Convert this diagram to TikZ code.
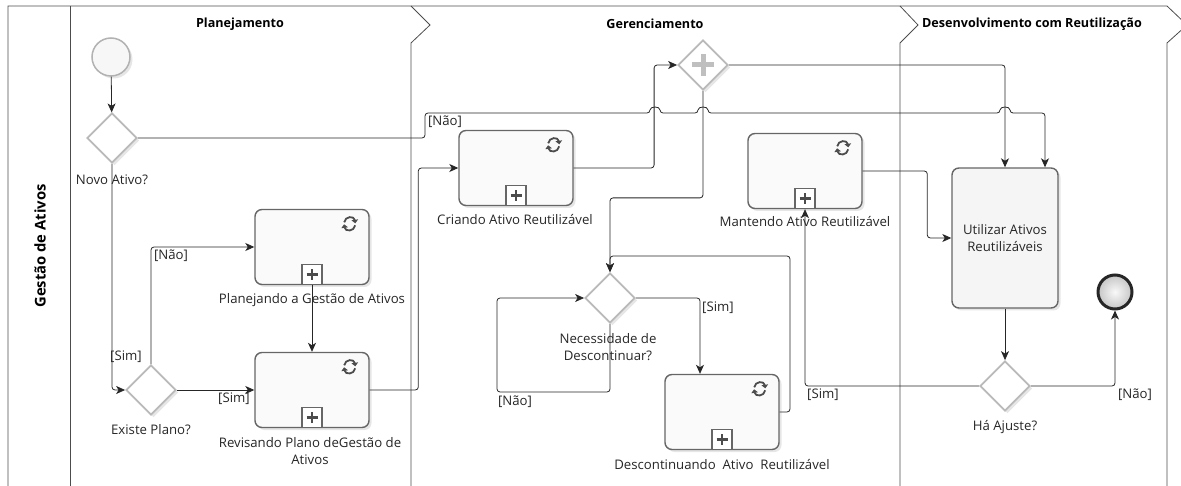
\documentclass[tikz,border=0pt]{standalone}
\usepackage{fontspec}
\setmainfont{Open Sans}
\usetikzlibrary{positioning,calc,shapes.geometric,arrows.meta,shadows}

\tikzset{
  lane/.style={draw=black!70, line width=.8pt},
  lanetitle/.style={font=\bfseries\fontsize{12.6}{15}\selectfont, inner sep=0pt},
  txt/.style={font=\fontsize{13.2}{17.5}\selectfont, text=black!85, inner sep=0pt, align=center},
  task/.style={draw=black!60, line width=1.4pt, rounded corners=7pt, fill=gray!4,
    minimum width=114pt, minimum height=75pt,
    drop shadow={shadow xshift=2.5pt, shadow yshift=-2.5pt, opacity=.2}},
  gateway/.style={diamond, aspect=1, draw=gray!55, line width=1.8pt, fill=white,
    minimum size=50pt, inner sep=0pt,
    drop shadow={shadow xshift=2.5pt, shadow yshift=-2.5pt, opacity=.2}},
  startev/.style={circle, draw=gray!60, line width=1.5pt, fill=gray!6, minimum size=38pt, inner sep=0pt,
    drop shadow={shadow xshift=2.5pt, shadow yshift=-2.5pt, opacity=.2}},
  endev/.style={circle, draw=black!85, line width=3pt, inner color=gray!5, outer color=gray!45,
    minimum size=34pt, inner sep=0pt},
  flow/.style={draw=black!85, line width=.8pt, rounded corners=3pt,
    -{Stealth[length=9pt,width=8pt,inset=2.5pt]}},
  submark/.style={draw=black!60, line width=1.4pt, fill=white, minimum size=20pt, inner sep=0pt},
  loopmark/.pic={
    \draw[line width=1.8pt, black!70, -{Triangle[length=3.5pt,width=6.5pt]}]
      (-5.5pt,1.5pt) .. controls (-4.5pt,8pt) and (4.5pt,8pt) .. (5.6pt,0.5pt);
    \draw[line width=1.8pt, black!70, -{Triangle[length=3.5pt,width=6.5pt]}]
      (5.5pt,-1.5pt) .. controls (4.5pt,-8pt) and (-4.5pt,-8pt) .. (-5.6pt,-0.5pt);
  }
}

\begin{document}
\begin{tikzpicture}[x=1pt,y=-1pt]
  \useasboundingbox (0,0) rectangle (1181,486);
  \clip (0,0) rectangle (1181,486);

  % pool and lanes
  \draw[lane] (8,486) -- (8,6) -- (1167,6) -- (1187,25) -- (1167,43) -- (1167,486);
  \draw[lane] (70,6) -- (70,486);
  \draw[lane] (411,6) -- (430,25) -- (411,43) -- (411,486);
  \draw[lane] (900,6) -- (918,25) -- (900,43) -- (900,486);

  \node[lanetitle] (tplan) at (240,24) {Planejamento};
  \node[lanetitle] (tger) at (655,24) {Gerenciamento};
  \node[lanetitle] (tdes) at (1032,24) {Desenvolvimento com Reutilização};
  \node[lanetitle, font=\bfseries\fontsize{14.8}{17}\selectfont, rotate=90] (tpool) at (40,246) {Gestão de Ativos};

  % events, gateways, tasks
  \node[startev] (start) at (111,57) {};
  \node[gateway] (gwnovo) at (112,138) {};
  \node[txt] (lbnovo) at (112,180) {Novo Ativo?};
  \node[gateway] (gwexiste) at (151,390) {};
  \node[txt] (lbexiste) at (151,430) {Existe Plano?};

  \node[task] (plan) at (312,247) {};
  \node[txt] (lbplan) at (312,300) {Planejando a Gestão de Ativos};
  \node[task] (rev) at (312,390) {};
  \node[txt] (lbrev) at (310,451) {Revisando Plano deGestão de\\Ativos};

  \node[task] (cria) at (516,168) {};
  \node[txt] (lbcria) at (515,220) {Criando Ativo Reutilizável};
  \node[gateway] (gwpar) at (703,65) {};
  \draw[line width=5pt, gray!50] ([xshift=-11pt]gwpar.center) -- ([xshift=11pt]gwpar.center)
    ([yshift=-11pt]gwpar.center) -- ([yshift=11pt]gwpar.center);
  \node[task] (mant) at (805,171) {};
  \node[txt] (lbmant) at (805,222) {Mantendo Ativo Reutilizável};
  \node[gateway] (gwnec) at (610,298) {};
  \node[txt] (lbnec) at (608,347) {Necessidade de\\Descontinuar?};
  \node[task] (desc) at (722,412) {};
  \node[txt] (lbdesc) at (722,465) {Descontinuando~ Ativo~ Reutilizável};

  \node[task, txt, minimum width=106pt, minimum height=140pt, fill=gray!8] (util) at (1005,238) {Utilizar Ativos\\Reutilizáveis};
  \node[gateway] (gwaj) at (1005,386) {};
  \node[txt] (lbaj) at (1005,427) {Há Ajuste?};
  \node[endev] (fim) at (1115,292) {};

  % task markers
  \foreach \t in {plan,rev,cria,mant,desc}{
    \node[submark, above=0pt of \t.south] (\t-sub) {};
    \draw[line width=2.6pt, black!70] ([xshift=-5.5pt]\t-sub.center) -- ([xshift=5.5pt]\t-sub.center)
      ([yshift=-5.5pt]\t-sub.center) -- ([yshift=5.5pt]\t-sub.center);
    \pic at ([xshift=-20pt,yshift=-15pt]\t.north east) {loopmark};
  }

  % sequence flows
  \draw[flow] (start) -- (gwnovo);
  \draw[flow] (gwnovo.east) -- (425,138) -- (425,113) -- (650,113)
    .. controls (650,106) and (660,106) .. (660,113) -- (698,113)
    .. controls (698,106) and (708,106) .. (708,113) -- (1000,113)
    .. controls (1000,106) and (1010,106) .. (1010,113) -| ([xshift=40pt]util.north);
  \draw[flow] (gwnovo.south) |- (gwexiste.west);
  \draw[flow] (gwexiste.north) |- (plan.west);
  \draw[flow] (gwexiste.east) -- (rev.west);
  \draw[flow] (plan.south) -- (rev.north);
  \draw[flow] (rev.east) -| ([xshift=-40pt]cria.west) -- (cria.west);
  \draw[flow] (cria.east) -| ([xshift=-23pt]gwpar.west) -- (gwpar.west);
  \draw[flow] (gwpar.east) -| (util.north);
  \draw[flow] (gwpar.south) -- ++(0,107) -| (gwnec.north);
  \draw[flow] (gwnec.east) -| ([xshift=-22pt]desc.north);
  \coordinate (loopc) at (497,392);
  \draw[flow] (gwnec.south) |- (loopc) |- (gwnec.west);
  \coordinate (backc) at (790,256);
  \draw[flow] (desc.east) -| (backc) -| (gwnec.north);
  \draw[flow] (mant.east) -| ([xshift=-24pt]util.west) -- (util.west);
  \draw[flow] (util.south) -- (gwaj.north);
  \draw[flow] (gwaj.west) -| (mant.south);
  \draw[flow] (gwaj.east) -| (fim.south);

  % flow labels
  \node[txt] (lbnao1) at (445,122) {[Não]};
  \node[txt] (lbsim1) at (126,357) {[Sim]};
  \node[txt] (lbnao2) at (171,256) {[Não]};
  \node[txt] (lbsim2) at (234,399) {[Sim]};
  \node[txt] (lbsim3) at (718,308) {[Sim]};
  \node[txt] (lbnao3) at (515,402) {[Não]};
  \node[txt] (lbsim4) at (823,395) {[Sim]};
  \node[txt] (lbnao4) at (1135,395) {[Não]};
\end{tikzpicture}
\end{document}
